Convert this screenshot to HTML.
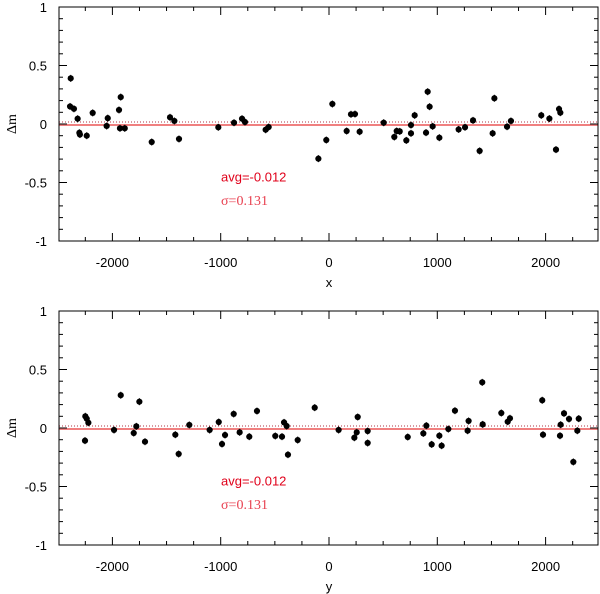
<!DOCTYPE html>
<html><head><meta charset="utf-8"><style>
body{margin:0;background:#fff;width:600px;height:594px;overflow:hidden}
svg{display:block}
text{font-family:"Liberation Sans",sans-serif}
text.serif{font-family:"Liberation Serif",serif}
</style></head><body>
<svg id="chart" width="600" height="594" xmlns="http://www.w3.org/2000/svg"></svg>
<script>
const xTicks=[-2000,-1000,0,1000,2000];
const yTicks=[1,0.5,0,-0.5,-1];
const topX=[-2385,-2391,-2355,-2321,-2305,-2300,-2237,-2182,-2053,-2043,-1939,-1923,-1930,-1886,-1637,-1468,-1428,-1385,-1022,-877,-803,-776,-585,-557,-98,-25,31,163,203,240,283,505,603,625,653,714,757,757,791,896,911,929,957,1019,1197,1256,1330,1391,1511,1527,1644,1680,1960,2035,2096,2124,2136];
const topDm=[0.39,0.15,0.13,0.045,-0.075,-0.09,-0.10,0.095,-0.017,0.05,0.12,0.23,-0.037,-0.037,-0.154,0.057,0.026,-0.128,-0.028,0.011,0.045,0.017,-0.049,-0.026,-0.296,-0.137,0.171,-0.06,0.083,0.085,-0.066,0.011,-0.111,-0.06,-0.063,-0.14,-0.009,-0.08,0.074,-0.074,0.276,0.148,-0.02,-0.117,-0.046,-0.028,0.031,-0.23,-0.08,0.22,-0.023,0.026,0.074,0.046,-0.219,0.128,0.097];
const botY=[-2250,-2237,-2222,-2253,-1985,-1923,-1803,-1779,-1751,-1699,-1419,-1388,-1290,-1102,-1018,-988,-960,-880,-825,-736,-665,-496,-434,-415,-391,-379,-289,-132,89,234,256,265,357,357,727,871,899,948,1019,1040,1102,1163,1280,1289,1415,1419,1591,1650,1671,1969,1976,2133,2139,2170,2216,2256,2293,2306];
const botDm=[0.10,0.08,0.045,-0.108,-0.017,0.28,-0.043,0.014,0.225,-0.117,-0.057,-0.222,0.026,-0.017,0.051,-0.137,-0.06,0.12,-0.037,-0.074,0.145,-0.068,-0.074,0.048,0.017,-0.228,-0.103,0.174,-0.017,-0.083,-0.037,0.094,-0.026,-0.128,-0.077,-0.046,0.02,-0.14,-0.066,-0.151,-0.009,0.148,-0.023,0.06,0.39,0.031,0.128,0.054,0.083,0.237,-0.057,-0.066,0.028,0.125,0.077,-0.29,-0.023,0.08];
const avgText="avg=-0.012", sigText="σ=0.131";
const NS="http://www.w3.org/2000/svg";
const svg=document.getElementById('chart');
function mk(tag,attrs,parent){const e=document.createElementNS(NS,tag);for(const k in attrs)e.setAttribute(k,attrs[k]);(parent||svg).appendChild(e);return e;}
const L=59,R=598;
function xs(v){return 329+v*0.1083;}
function panel(top,bot,y0,xs_,ys_,xlab,pname){
  const ys=v=>y0-v*117;
  const g=mk('g',{});
  
  
  const rl=mk('line',{x1:L,x2:R,y1:ys(0)+1,y2:ys(0)+1,stroke:'#f08080','stroke-width':2},g);
  
  const dl=mk('line',{x1:L,x2:R,y1:ys(0)-2,y2:ys(0)-2,stroke:'#b03040','stroke-width':1,'stroke-dasharray':'1,2'},g);
  
  const fr=mk('rect',{x:L,y:top,width:R-L,height:bot-top,fill:'none',stroke:'#000','stroke-width':1},g);
  
  for(let v=-2500;v<=2500;v+=250){
    const major=v%1000===0, len=major?8:4, x=xs(v);
    if(x<L||x>R)continue;
    mk('line',{x1:x,x2:x,y1:bot,y2:bot-len,stroke:'#000'},g);
    mk('line',{x1:x,x2:x,y1:top,y2:top+len,stroke:'#000'},g);
  }
  xTicks.forEach(v=>{const t=mk('text',{x:xs(v),y:bot+26,'text-anchor':'middle','font-size':13},g);t.textContent=v;
    });
  for(let i=-10;i<=10;i++){
    const v=i/10,y=ys(v),major=i%5===0,len=major?8:4;
    mk('line',{x1:L,x2:L+len,y1:y,y2:y,stroke:'#000'},g);
    mk('line',{x1:R,x2:R-len,y1:y,y2:y,stroke:'#000'},g);
  }
  yTicks.forEach(v=>{const t=mk('text',{x:47,y:ys(v)+5,'text-anchor':'end','font-size':13},g);t.textContent=v;
    });
  const yt=mk('text',{x:0,y:0,'text-anchor':'middle','font-size':14,'class':'serif',style:'font-family:"Liberation Serif",serif',transform:`translate(16,${ys(0)}) rotate(-90)`},g);
  yt.textContent='Δm';
  const xt=mk('text',{x:329,y:bot+46,'text-anchor':'middle','font-size':13},g);
  xt.textContent=xlab;
  xs_.forEach((v,i)=>{
    const cx=xs(v),cy=ys(ys_[i]);
    mk('line',{x1:cx,x2:cx,y1:cy-3.5,y2:cy+3.5,stroke:'#000','stroke-width':1},g);
    const c=mk('circle',{cx:cx,cy:cy,r:3.1,fill:'#000'},g);
    
  });
  const a=mk('text',{x:221,y:ys(-0.45)+5,'font-size':13,fill:'#e0001a'},g);
  a.textContent=avgText;
  const s=mk('text',{x:221,y:ys(-0.65)+5,'font-size':14,fill:'#e84050','class':'serif',style:'font-family:"Liberation Serif",serif'},g);
  s.textContent=sigText;
}
panel(7,241,124,topX,topDm,'x','top-panel-x');
panel(311,545,428,botY,botDm,'y','bottom-panel-y');
</script>
</body></html>
